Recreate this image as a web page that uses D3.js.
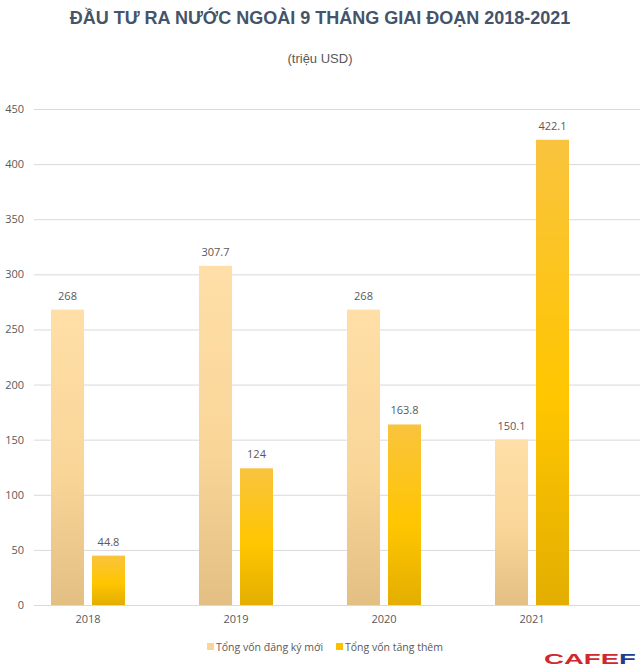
<!DOCTYPE html>
<html><head><meta charset="utf-8">
<script src="https://cdn.jsdelivr.net/npm/d3@7"></script>
<style>body{margin:0;background:#fff}svg{display:block}</style>
</head><body>
<svg id="c" width="640" height="667"></svg>
<script>
const years = ["2018","2019","2020","2021"];
const newReg = [268, 307.7, 268, 150.1];
const added = [44.8, 124, 163.8, 422.1];
const seriesNames = ["Tổng vốn đăng ký mới","Tổng vốn tăng thêm"];
const yTicks = [0,50,100,150,200,250,300,350,400,450];

const svg = d3.select("#c");
const yTop = 109, yBot = 605;
const y = d3.scaleLinear().domain([0,450]).range([yBot,yTop]);
const x0 = d3.scaleBand().domain(years).range([14,606]).padding(0);
const barW = 33, gap = 8;

const defs = svg.append("defs");
const g1 = defs.append("linearGradient").attr("id","gLight").attr("x1",0).attr("y1",0).attr("x2",0).attr("y2",1);
g1.append("stop").attr("offset","0%").attr("stop-color","#FFDFA7");
g1.append("stop").attr("offset","55%").attr("stop-color","#F9D598");
g1.append("stop").attr("offset","100%").attr("stop-color","#E4BF84");
const g2 = defs.append("linearGradient").attr("id","gYel").attr("x1",0).attr("y1",0).attr("x2",0).attr("y2",1);
g2.append("stop").attr("offset","0%").attr("stop-color","#F9C33E");
g2.append("stop").attr("offset","55%").attr("stop-color","#FFC600");
g2.append("stop").attr("offset","100%").attr("stop-color","#E3AE00");

svg.append("text").attr("x",320).attr("y",24).attr("text-anchor","middle")
  .attr("font-family","Liberation Sans, Arial, sans-serif").attr("font-weight","bold")
  .attr("font-size",18).attr("fill","#44546A")
  .text("ĐẦU TƯ RA NƯỚC NGOÀI 9 THÁNG GIAI ĐOẠN 2018-2021");
svg.append("text").attr("x",320).attr("y",63).attr("text-anchor","middle")
  .attr("font-family","Liberation Sans, Arial, sans-serif")
  .attr("font-size",13).attr("fill","#595959").text("(triệu USD)");

const yAxis = d3.axisLeft(y).tickValues(yTicks).tickSize(-(640-34)).tickPadding(10);
const ga = svg.append("g").attr("transform","translate(34,0)").call(yAxis);
ga.select(".domain").remove();
ga.selectAll(".tick line").attr("stroke","#D9D9D9").attr("stroke-width",1);
ga.selectAll(".tick text").attr("font-family","Open Sans, sans-serif").attr("font-size",11).attr("fill","#595959");

const xa = svg.append("g").attr("transform",`translate(0,${yBot})`).call(d3.axisBottom(x0).tickSize(0).tickPadding(10));
xa.select(".domain").remove();
xa.selectAll(".tick text").attr("font-family","Open Sans, sans-serif").attr("font-size",11).attr("fill","#595959");

const data = years.map((yr,i)=>({yr, vals:[newReg[i], added[i]]}));
const grp = svg.append("g").selectAll("g").data(data).join("g")
  .attr("transform", d=>`translate(${x0(d.yr)+x0.bandwidth()/2},0)`);
const fills = ["url(#gLight)","url(#gYel)"];
grp.selectAll("rect").data(d=>d.vals).join("rect")
  .attr("x",(v,i)=> i===0 ? -gap/2-barW : gap/2)
  .attr("width",barW)
  .attr("y",v=>y(v)).attr("height",v=>yBot-y(v))
  .attr("fill",(v,i)=>fills[i]);
grp.selectAll("text.val").data(d=>d.vals).join("text").attr("class","val")
  .attr("x",(v,i)=> i===0 ? -gap/2-barW/2 : gap/2+barW/2)
  .attr("y",v=>y(v)-10).attr("text-anchor","middle")
  .attr("font-family","Open Sans, sans-serif").attr("font-size",11).attr("fill","#595959")
  .text(v=>v);

const legColors = ["#F8D598","#FFC000"];
const legX = [207, 336];
seriesNames.forEach((n,i)=>{
  svg.append("rect").attr("x",legX[i]).attr("y",643).attr("width",7).attr("height",7).attr("fill",legColors[i]);
  svg.append("text").attr("x",legX[i]+9).attr("y",651)
    .attr("font-family","Open Sans, sans-serif").attr("font-size",10.5).attr("fill","#595959").text(n);
});

const logo = svg.append("text").attr("x",544).attr("y",664)
  .attr("font-family","Liberation Sans, Arial, sans-serif").attr("font-weight","bold")
  .attr("font-size",14).attr("textLength",92).attr("lengthAdjust","spacingAndGlyphs");
logo.append("tspan").attr("fill","#D0282E").text("CAFE");
logo.append("tspan").attr("fill","#1F3E8C").text("F");
</script>
</body></html>
